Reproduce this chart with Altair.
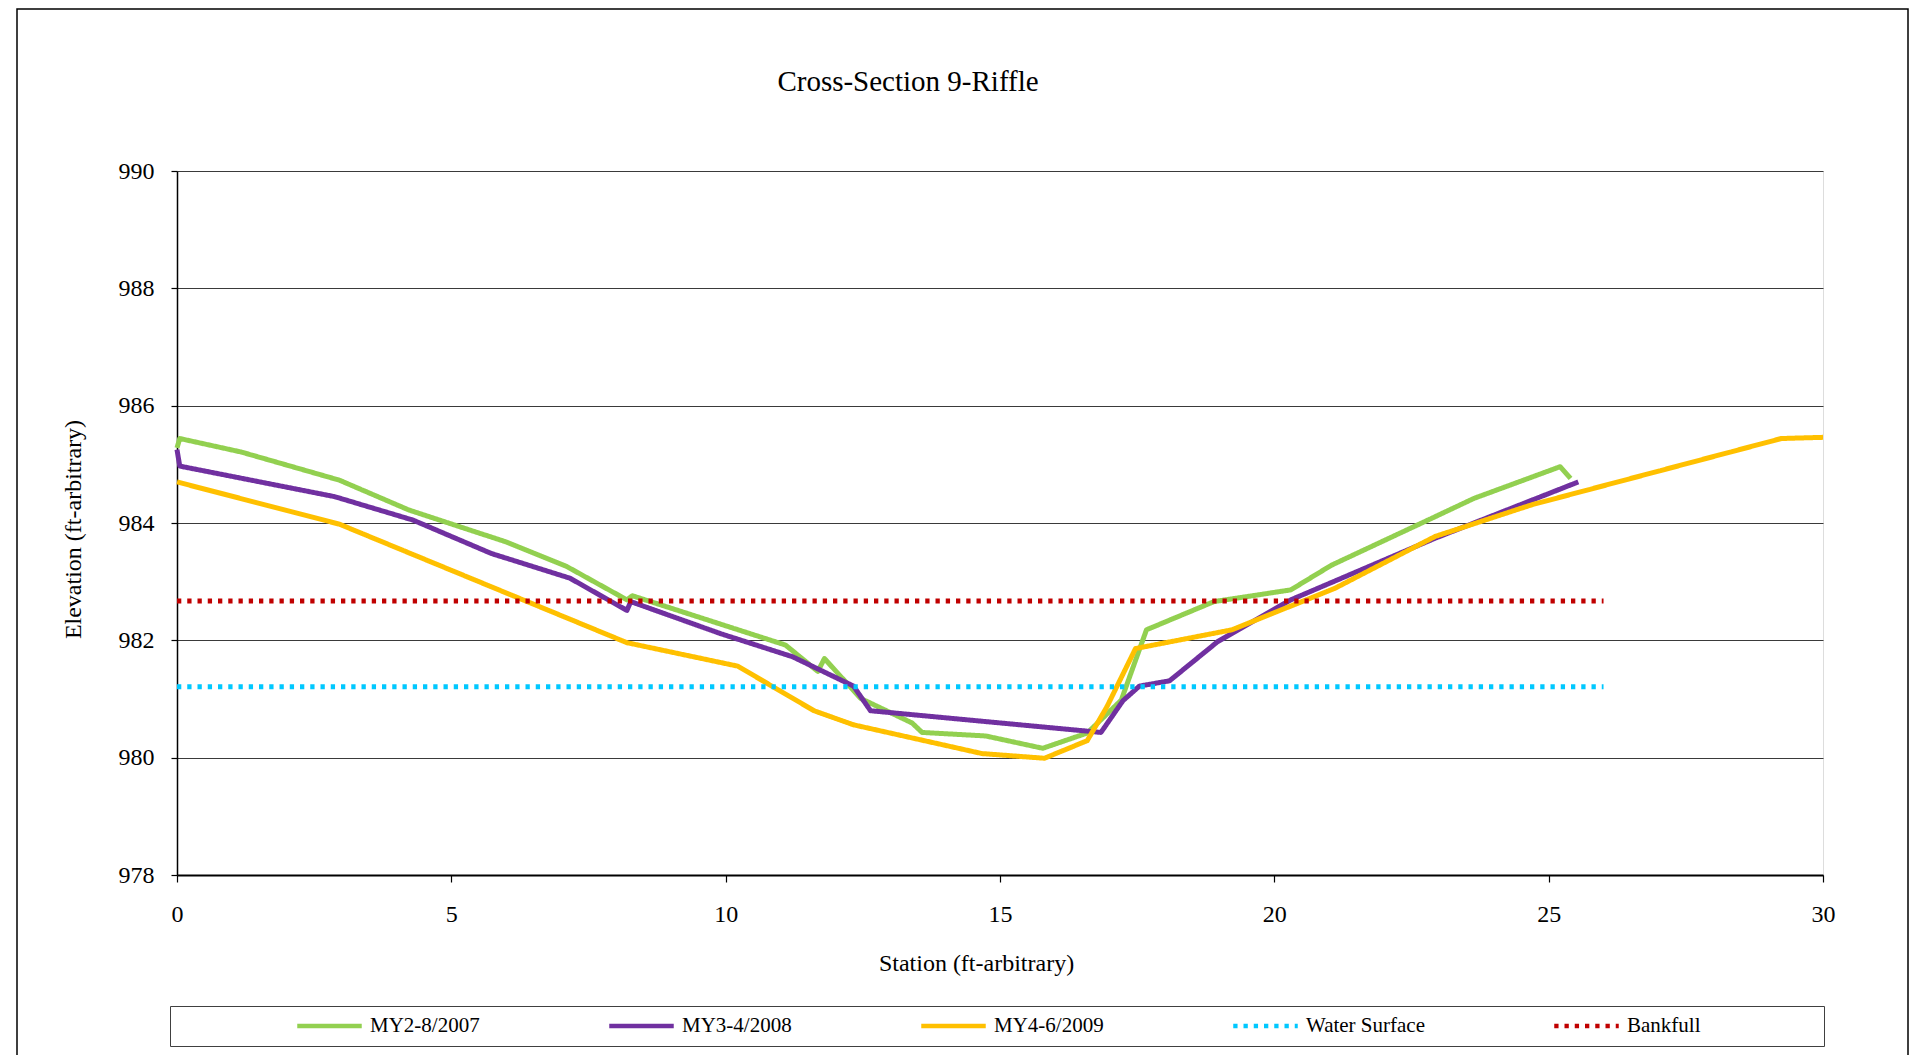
import altair as alt
import pandas as pd

# ---------------- data ----------------
SERIES = ["MY2-8/2007", "MY3-4/2008", "MY4-6/2009", "Water Surface", "Bankfull"]
COLORS = ["#92D050", "#7030A0", "#FFC000", "#00C8FF", "#C00000"]
DASHES = [[1, 0], [1, 0], [1, 0], [4.3, 5.95], [4.3, 5.95]]

my2_station = [0.0, 0.05, 1.17, 2.96, 4.23, 5.99, 7.10, 8.20, 8.30, 11.09, 11.68,
               11.80, 12.46, 13.40, 13.58, 14.74, 15.78, 16.59, 17.21, 17.67, 18.90,
               20.30, 21.04, 22.80, 23.64, 25.21, 25.40]
my2_elev = [985.28, 985.44, 985.21, 984.73, 984.22, 983.68, 983.26, 982.69, 982.76,
            981.92, 981.47, 981.69, 981.01, 980.59, 980.43, 980.37, 980.16, 980.42,
            980.98, 982.18, 982.66, 982.86, 983.28, 984.05, 984.42, 984.96, 984.76]

my3_station = [0.0, 0.05, 2.87, 4.30, 5.73, 7.16, 8.20, 8.27, 9.92, 11.22, 12.33,
               12.64, 16.84, 17.24, 17.54, 18.09, 18.97, 20.30, 22.93, 25.54]
my3_elev = [985.25, 984.97, 984.45, 984.05, 983.48, 983.06, 982.51, 982.66, 982.11,
            981.72, 981.22, 980.80, 980.43, 980.97, 981.22, 981.31, 981.98, 982.69,
            983.74, 984.70]

my4_station = [0.0, 2.96, 8.20, 10.22, 11.61, 12.33, 14.67, 15.81, 16.59, 16.95,
               17.47, 19.23, 21.11, 22.93, 24.69, 29.24, 30.0]
my4_elev = [984.70, 983.98, 981.96, 981.56, 980.80, 980.56, 980.07, 979.99, 980.29,
            980.87, 981.86, 982.18, 982.89, 983.77, 984.31, 985.44, 985.46]

water_station = [0.0, 26.0]
water_elev = [981.21, 981.21]

bank_station = [0.0, 26.0]
bank_elev = [982.67, 982.67]

X_TICKS = [0, 5, 10, 15, 20, 25, 30]
Y_TICKS = [978, 980, 982, 984, 986, 988, 990]

# ---------------- table ----------------
rows = []
for name, xs, ys in [
    (SERIES[0], my2_station, my2_elev),
    (SERIES[1], my3_station, my3_elev),
    (SERIES[2], my4_station, my4_elev),
    (SERIES[3], water_station, water_elev),
    (SERIES[4], bank_station, bank_elev),
]:
    for i, (x, y) in enumerate(zip(xs, ys)):
        rows.append({"series": name, "station": x, "elevation": y, "idx": i})
df = pd.DataFrame(rows)

FONT = "Liberation Serif"
# invisible trailing room after the last legend label (widens the legend box)
PAD = "\u00a0" * 22 + "\u200b"

legend = alt.Legend(
    title=" ",
    titleOrient="left",
    titleFontSize=1,
    titlePadding=117,
    orient="none",
    legendX=-7,
    legendY=835,
    direction="horizontal",
    padding=8,
    clipHeight=24,
    columnPadding=127,
    symbolType="stroke",
    symbolSize=4160,
    symbolStrokeWidth=4.5,
    labelOffset=6,
    labelFont=FONT,
    labelFontSize=21,
    labelColor="black",
    labelLimit=0,
    labelExpr="datum.label == 'Bankfull' ? datum.label + '" + PAD + "' : datum.label",
    strokeColor="#404040",
)

lines = alt.Chart(df).mark_line(
    strokeWidth=5, strokeJoin="round"
).encode(
    x=alt.X(
        "station:Q",
        scale=alt.Scale(domain=[0, 30], nice=False, zero=False),
        axis=alt.Axis(
            values=X_TICKS,
            title="Station (ft-arbitrary)",
            grid=False,
            tickSize=7,
            tickColor="black",
            tickWidth=1.2,
            domainColor="black",
            domainWidth=2,
            labelFont=FONT,
            labelFontSize=24,
            labelColor="black",
            labelBaseline="alphabetic",
            labelPadding=39,
            labelFlush=False,
            labelOverlap=False,
            titleFont=FONT,
            titleFontSize=24,
            titleFontWeight="normal",
            titleColor="black",
            titleBaseline="alphabetic",
            titleX=799,
            titleY=95,
        ),
    ),
    y=alt.Y(
        "elevation:Q",
        scale=alt.Scale(domain=[978, 990], nice=False, zero=False),
        axis=alt.Axis(
            values=Y_TICKS,
            title="Elevation (ft-arbitrary)",
            grid=True,
            gridColor="#3a3a3a",
            gridWidth=1.2,
            tickSize=6,
            tickColor="black",
            tickWidth=1.2,
            domainColor="black",
            domainWidth=1.5,
            labelFont=FONT,
            labelFontSize=24,
            labelColor="black",
            labelPadding=17,
            labelOverlap=False,
            titleFont=FONT,
            titleFontSize=24,
            titleFontWeight="normal",
            titleColor="black",
            titleAngle=270,
            titleBaseline="alphabetic",
            titleAlign="center",
            titleX=-97,
            titleY=358,
        ),
    ),
    color=alt.Color("series:N", scale=alt.Scale(domain=SERIES, range=COLORS), legend=legend),
    strokeDash=alt.StrokeDash("series:N", scale=alt.Scale(domain=SERIES, range=DASHES), legend=legend),
    order=alt.Order("idx:Q"),
)

frame = alt.Chart(alt.Data(values=[{}])).mark_rect(
    filled=False, stroke="black", strokeWidth=1.5
).encode(
    x=alt.value(-160), x2=alt.value(1731), y=alt.value(-162), y2=alt.value(1500)
)

chart = alt.layer(frame, lines).properties(
    width=1646,
    height=704,
    autosize=alt.AutoSizeParams(type="none"),
    padding={"left": 169, "top": 163, "right": 86, "bottom": 180},
    title=alt.TitleParams(
        "Cross-Section 9-Riffle",
        font=FONT,
        fontSize=29,
        fontWeight="normal",
        color="black",
        anchor="middle",
        frame="group",
        baseline="alphabetic",
        offset=0,
        dx=-92,
        dy=112,
    ),
).configure_view(
    stroke="#808080", strokeWidth=1.5
).configure_legend(
    strokeWidth=1.5
).configure(
    background="white", font=FONT
)

chart.save("out.html", embed_options={"renderer": "svg", "actions": False})
